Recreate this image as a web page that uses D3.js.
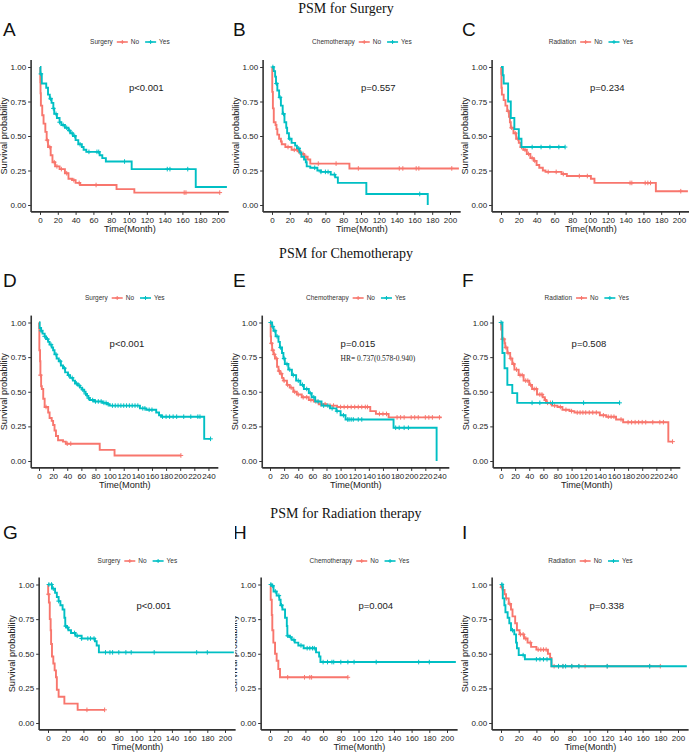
<!DOCTYPE html>
<html>
<head>
<meta charset="utf-8">
<script src="https://cdn.jsdelivr.net/npm/d3@7"></script>
<style>
  body { margin: 0; background: #fff; }
  text { font-family: "Liberation Sans", Arial, sans-serif; }
</style>
</head>
<body>
<script>
"use strict";

// ---- data ----
const rowTitles = ["PSM for Surgery", "PSM for Chemotherapy", "PSM for Radiation therapy"];
const letters = ["A", "B", "C", "D", "E", "F", "G", "H", "I"];
const legendTitles = ["Surgery", "Chemotherapy", "Radiation"];
const groups = ["No", "Yes"];
const pLabels = ["p<0.001", "p=0.557", "p=0.234", "p<0.001", "p=0.015", "p=0.508", "p<0.001", "p=0.004", "p=0.338"];
const hrLabel = "HR= 0.737(0.578-0.940)";
const yTicks = [0, 0.25, 0.5, 0.75, 1];
const xTicks200 = [0, 20, 40, 60, 80, 100, 120, 140, 160, 180, 200];
const xTicks240 = [0, 20, 40, 60, 80, 100, 120, 140, 160, 180, 200, 220, 240];

// step points [month, survival]
const aNo = [[0,1],[0.3,0.89],[0.6,0.81],[1,0.72],[2.5,0.65],[4,0.59],[6,0.53],[7.5,0.47],[9,0.42],[12,0.36],[14,0.31],[17,0.28],[22,0.26],[28,0.23],[32,0.19],[36,0.18],[40,0.16],[45,0.145],[86,0.115],[106,0.09],[202,0.09]];
const aYes = [[0,1],[0.5,0.95],[2,0.88],[7,0.85],[9,0.8],[11,0.77],[13,0.74],[15,0.7],[16,0.66],[19,0.63],[22,0.6],[24,0.58],[28,0.56],[32,0.54],[34,0.52],[37,0.5],[40,0.47],[43,0.44],[47,0.42],[49,0.4],[52,0.385],[67,0.36],[70,0.34],[74,0.315],[103,0.26],[175,0.13],[210,0.13]];
const aNoCens = [8,11,16,19,24,30,38,44,63,162,164,202];
const aYesCens = [1,12,15,18,22,26,30,33,36,39,45,55,64,66,95,143,146,166];

const bNo = [[0,1],[0.3,0.82],[1,0.7],[2,0.6],[4,0.58],[5,0.55],[6,0.51],[8,0.48],[10,0.46],[11,0.44],[15,0.42],[22,0.4],[29,0.39],[32,0.37],[36,0.35],[40,0.33],[43,0.3],[87,0.265],[210,0.265]];
const bYes = [[0,1],[2,0.97],[3.5,0.93],[4.5,0.88],[6,0.83],[8,0.78],[10,0.72],[12,0.66],[14,0.6],[16,0.56],[17,0.52],[19,0.48],[22,0.45],[26,0.43],[28,0.41],[31,0.38],[33,0.35],[36,0.33],[38,0.31],[39,0.28],[43,0.27],[51,0.25],[55,0.24],[66,0.22],[71,0.2],[74,0.16],[106,0.08],[175,0]];
const bNoCens = [18,25,30,35,38,52,72,97,143,147,162,165,202];
const bYesCens = [1,5,9,13,20,30,48,55,60,63,70,166];

const cNo = [[0,1],[0.2,0.95],[0.5,0.85],[1,0.8],[3,0.76],[5,0.72],[7,0.68],[9,0.64],[10,0.6],[11,0.56],[14,0.52],[17,0.48],[20,0.45],[22,0.42],[25,0.4],[29,0.37],[33,0.34],[37,0.32],[40,0.29],[43,0.27],[47,0.25],[50,0.24],[68,0.225],[74,0.21],[101,0.19],[105,0.16],[174,0.1],[210,0.1]];
const cYes = [[0,1],[2,0.94],[3,0.88],[8,0.75],[11,0.63],[15,0.55],[20,0.48],[23,0.42],[72,0.42]];
const cNoCens = [8,12,16,19,23,27,31,35,38,53,62,70,88,97,145,147,162,165,168,202];
const cYesCens = [35,45,55,65,72];

const dNo = [[0,1],[0.2,0.96],[0.5,0.8],[1.5,0.72],[2,0.62],[3,0.54],[4,0.52],[6,0.45],[8,0.39],[13,0.35],[15,0.31],[18,0.29],[20,0.26],[22,0.22],[24,0.18],[27,0.15],[34,0.14],[38,0.125],[86,0.08],[107,0.04],[201,0.04]];
const dYes = [[0,1],[1,0.96],[3,0.94],[5,0.92],[8,0.9],[10,0.88],[13,0.86],[15,0.84],[18,0.82],[20,0.8],[22,0.77],[25,0.74],[28,0.72],[31,0.69],[34,0.67],[37,0.64],[41,0.62],[44,0.6],[48,0.58],[51,0.56],[55,0.545],[58,0.53],[61,0.515],[64,0.5],[66,0.485],[68,0.47],[70,0.455],[72,0.44],[78,0.43],[90,0.42],[96,0.41],[100,0.4],[143,0.38],[152,0.37],[166,0.35],[170,0.33],[173,0.32],[234,0.16],[243,0.16]];
const dNoCens = [2,10,40,45,201];
const dYesCens = [3,8,12,17,24,30,36,42,47,53,57,62,66,70,76,80,84,88,92,95,98,104,108,112,116,120,124,128,132,136,140,147,150,156,160,175,180,185,190,195,205,215,225,228,243];

const eNo = [[0,1],[1,0.9],[1.5,0.85],[3,0.8],[5,0.77],[7,0.74],[10,0.68],[12,0.65],[14,0.63],[17,0.6],[19,0.58],[24,0.55],[28,0.53],[33,0.5],[38,0.48],[45,0.46],[55,0.44],[62,0.43],[69,0.41],[80,0.4],[95,0.39],[142,0.36],[150,0.34],[168,0.315],[243,0.315]];
const eYes = [[0,1],[3,0.97],[5,0.94],[8,0.9],[12,0.86],[14,0.82],[17,0.78],[19,0.74],[21,0.7],[26,0.66],[31,0.62],[37,0.58],[43,0.55],[48,0.52],[55,0.49],[59,0.46],[64,0.43],[73,0.4],[85,0.38],[94,0.36],[100,0.33],[107,0.3],[175,0.24],[236,0]];
const eNoCens = [2,4,6,9,13,16,20,25,30,35,40,47,52,58,65,72,78,85,90,100,105,110,115,120,125,130,135,138,155,160,165,180,185,190,200,205,210,220,225,230,240];
const eYesCens = [1,4,7,10,15,20,24,28,33,40,46,52,57,62,68,76,82,88,95,104,110,112,115,118,125,130,178,183,190,196];

const fNo = [[0,1],[0.3,0.95],[1.5,0.88],[5,0.85],[6,0.82],[9,0.78],[13,0.74],[16,0.7],[19,0.66],[25,0.62],[32,0.58],[40,0.55],[44,0.52],[51,0.48],[59,0.46],[62,0.44],[64,0.42],[72,0.4],[80,0.39],[87,0.37],[97,0.36],[104,0.35],[140,0.33],[149,0.32],[163,0.3],[173,0.28],[237,0.14],[243,0.14]];
const fYes = [[0,1],[2,0.78],[5,0.67],[9,0.55],[16,0.49],[23,0.42],[168,0.42]];
const fNoCens = [2,4,7,10,14,18,22,27,30,35,38,42,47,50,55,58,63,66,70,76,84,92,100,108,112,116,120,125,130,135,145,152,156,160,170,180,185,190,195,200,205,215,225,230,243];
const fYesCens = [0,44,55,73,117,168];

const gNo = [[0,1],[0.2,0.93],[1,0.87],[2,0.75],[3,0.67],[3.5,0.57],[4.5,0.48],[6,0.43],[7.5,0.38],[9,0.33],[10,0.24],[12,0.19],[18.5,0.14],[33.5,0.095],[64,0.095]];
const gYes = [[0,1],[4.5,0.97],[8,0.94],[10,0.91],[12,0.88],[14,0.85],[16.5,0.82],[18.5,0.76],[19.5,0.7],[21,0.69],[23,0.67],[26,0.65],[31,0.63],[38,0.61],[53,0.59],[55,0.56],[57.5,0.51],[210,0.51]];
const gNoCens = [0.5,44,64];
const gYesCens = [1,4,6,12,20,22,30,33,38,45,48,52,65,70,73,80,88,94,120,168,180];

const hNo = [[0,1],[0.8,0.89],[2,0.78],[2.6,0.67],[3.8,0.58],[5.7,0.5],[7.5,0.45],[9.4,0.39],[11.3,0.33],[88,0.33]];
const hYes = [[0,1],[2,0.99],[4,0.95],[7.5,0.92],[10.5,0.89],[12,0.85],[14,0.82],[17,0.76],[19,0.7],[19.6,0.63],[22,0.62],[24.5,0.6],[28,0.58],[32,0.56],[38,0.54],[52,0.51],[55.5,0.48],[57,0.44],[210,0.44]];
const hNoCens = [20,39,45,47,88];
const hYesCens = [1,3,6,10,13,20,23,27,35,42,45,48,50,60,65,70,72,80,88,95,120,168,180];

const iNo = [[0,1],[0.3,0.98],[2,0.96],[4,0.93],[5.7,0.9],[8.7,0.86],[11.3,0.82],[13,0.77],[16,0.72],[18,0.67],[21,0.64],[26,0.61],[30,0.58],[34,0.55],[40,0.53],[53,0.5],[55.5,0.47],[57,0.41],[180,0.41]];
const iYes = [[0,1],[2,0.9],[3.8,0.85],[5,0.8],[7.5,0.76],[9.4,0.72],[11.3,0.67],[15,0.64],[17,0.58],[18,0.54],[20,0.49],[27,0.46],[57,0.41],[210,0.41]];
const iNoCens = [1,6,10,22,25,28,33,42,45,48,51,60,65,70,80,88,95,120,168,180];
const iYesCens = [1,13,25,40,44,48,52,65,70,73,80,88,120,168];

const curves = [
  [aNo, aYes, aNoCens, aYesCens], [bNo, bYes, bNoCens, bYesCens], [cNo, cYes, cNoCens, cYesCens],
  [dNo, dYes, dNoCens, dYesCens], [eNo, eYes, eNoCens, eYesCens], [fNo, fYes, fNoCens, fYesCens],
  [gNo, gYes, gNoCens, gYesCens], [hNo, hYes, hNoCens, hYesCens], [iNo, iYes, iNoCens, iYesCens]
];

const colors = ["#F8766D", "#00BFC4"];

// ---- layout ----
const rows = [
  { top: 0, titleY: 13, letterY: 36, legendY: 42, y1: 67, y0: 205, zeros: [40, 272, 501], xMin: -10, xMax: 212, ppm: 0.89, ticks: xTicks200 },
  { top: 240, titleY: 258, letterY: 287, legendY: 298, y1: 322.5, y0: 461, zeros: [39, 270, 501], xMin: -11, xMax: 254, ppm: 0.706, ticks: xTicks240 },
  { top: 500, titleY: 518, letterY: 539, legendY: 561, y1: 584.5, y0: 723, zeros: [48, 270, 501], xMin: -10, xMax: 212, ppm: 0.885, ticks: xTicks200 }
];
const colLeft = [0, 230, 459];

const svg = d3.select("body").append("svg")
  .attr("width", 689)
  .attr("height", 754);

svg.append("rect").attr("width", 689).attr("height", 754).attr("fill", "#fff");

rows.forEach((r, i) => {
  svg.append("text")
    .attr("x", 346)
    .attr("y", r.titleY)
    .attr("text-anchor", "middle")
    .style("font-family", "'Liberation Serif', 'Times New Roman', serif")
    .style("font-size", "14px")
    .attr("fill", "#111")
    .text(rowTitles[i]);
});

function survAt(steps, t) {
  let s = steps[0][1];
  steps.forEach(p => { if (p[0] <= t) s = p[1]; });
  return s;
}

function drawPanel(idx) {
  const row = rows[Math.floor(idx / 3)];
  const col = idx % 3;
  const zero = row.zeros[col];
  const x = d3.scaleLinear()
    .domain([row.xMin, row.xMax])
    .range([zero + row.xMin * row.ppm, zero + row.xMax * row.ppm]);
  const y = d3.scaleLinear()
    .domain([0, 1])
    .range([row.y0, row.y1]);
  const yLo = y(-0.05), yHi = y(1.05);
  const axisX = x(row.xMin);

  const g = svg.append("g");

  // G overlaps the next panel's y title, as in the original
  if (idx === 6) {
    g.append("rect").attr("x", 0).attr("y", row.top + 22)
      .attr("width", 235).attr("height", 754 - row.top - 22).attr("fill", "#fff");
  }

  g.append("text")
    .attr("x", colLeft[col] + 3)
    .attr("y", row.letterY)
    .style("font-size", "19px")
    .attr("fill", "#111")
    .text(letters[idx]);

  // legend
  const leg = g.append("g");
  const lt = leg.append("text").attr("y", 0).attr("dy", "0.35em")
    .style("font-size", "6.5px").attr("fill", "#333").text(legendTitles[col]);
  let cx = lt.node().getComputedTextLength() + 4;
  groups.forEach((name, k) => {
    leg.append("line").attr("x1", cx).attr("x2", cx + 11).attr("y1", 0).attr("y2", 0)
      .attr("stroke", colors[k]).attr("stroke-width", 1.6);
    leg.append("path").attr("d", `M${cx + 5.5 - 2},0H${cx + 5.5 + 2}M${cx + 5.5},-2V2`)
      .attr("stroke", colors[k]).attr("stroke-width", 1);
    cx += 14;
    const t = leg.append("text").attr("x", cx).attr("dy", "0.35em")
      .style("font-size", "6.5px").attr("fill", "#333").text(name);
    cx += t.node().getComputedTextLength() + 6;
  });
  const legW = cx - 6;
  const mid = (axisX + x(row.xMax)) / 2;
  leg.attr("transform", `translate(${mid - legW / 2},${row.legendY})`);

  // axes
  const yAxis = g.append("g")
    .attr("transform", `translate(${axisX},0)`)
    .call(d3.axisLeft(y).tickValues(yTicks).tickFormat(d3.format(".2f")).tickSize(3).tickPadding(2));
  yAxis.select(".domain").attr("d", `M0,${yHi}V${yLo}`).attr("stroke", "#333").attr("stroke-width", 1.6);
  yAxis.selectAll(".tick line").attr("stroke", "#333");
  yAxis.selectAll(".tick text").style("font-size", "8px").style("font-family", "'Liberation Sans', Arial, sans-serif").attr("fill", "#222");

  const xAxis = g.append("g")
    .attr("transform", `translate(0,${yLo})`)
    .call(d3.axisBottom(x).tickValues(row.ticks).tickFormat(d3.format("d")).tickSize(3).tickPadding(2));
  xAxis.select(".domain").attr("d", `M${axisX},0H${x(row.xMax)}`).attr("stroke", "#333").attr("stroke-width", 1.6);
  xAxis.selectAll(".tick line").attr("stroke", "#333");
  xAxis.selectAll(".tick text").style("font-size", "8px").style("font-family", "'Liberation Sans', Arial, sans-serif").attr("fill", "#222");

  g.append("text")
    .attr("transform", `translate(${axisX - 24},${(yLo + yHi) / 2}) rotate(-90)`)
    .attr("text-anchor", "middle")
    .style("font-size", "9.2px")
    .attr("fill", "#222")
    .text("Survival probability");

  g.append("text")
    .attr("x", (axisX + x(row.xMax)) / 2)
    .attr("y", yLo + 20)
    .attr("text-anchor", "middle")
    .style("font-size", "9.2px")
    .attr("fill", "#222")
    .text("Time(Month)");

  // curves
  const line = d3.line().x(d => x(d[0])).y(d => y(d[1])).curve(d3.curveStepAfter);
  const set = curves[idx];
  [0, 1].forEach(k => {
    g.append("path")
      .datum(set[k])
      .attr("d", line)
      .attr("fill", "none")
      .attr("stroke", colors[k])
      .attr("stroke-width", 1.9);
    g.selectAll(null)
      .data(set[k + 2])
      .enter()
      .append("path")
      .attr("d", t => {
        const px = x(t), py = y(survAt(set[k], t));
        return `M${px - 2.3},${py}H${px + 2.3}M${px},${py - 2.3}V${py + 2.3}`;
      })
      .attr("stroke", colors[k])
      .attr("stroke-width", 1);
  });

  g.append("text")
    .attr("x", x(100))
    .attr("y", y(0.85))
    .attr("dy", "0.35em")
    .style("font-size", "9.5px")
    .attr("fill", "#222")
    .text(pLabels[idx]);

  if (idx === 4) {
    g.append("text")
      .attr("x", x(100))
      .attr("y", y(0.74))
      .attr("dy", "0.35em")
      .style("font-family", "'Liberation Serif', 'Times New Roman', serif")
      .style("font-size", "7.5px")
      .attr("fill", "#222")
      .text(hrLabel);
  }
}

[0, 1, 2, 3, 4, 5, 7, 8, 6].forEach(drawPanel);
</script>
</body>
</html>
